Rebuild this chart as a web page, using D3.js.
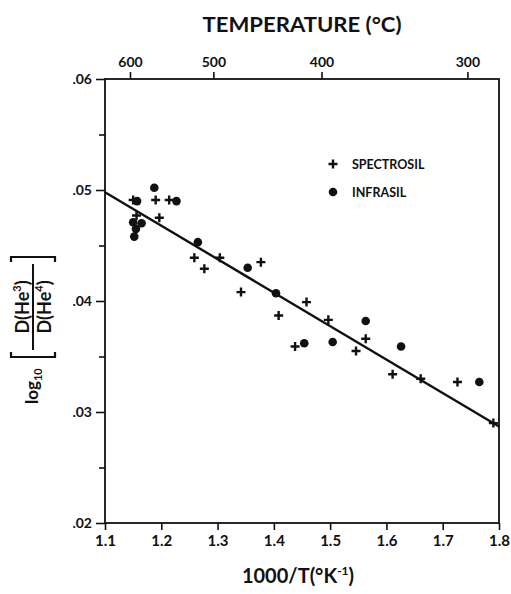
<!DOCTYPE html>
<html>
<head>
<meta charset="utf-8">
<script src="https://cdn.jsdelivr.net/npm/d3@7"></script>
<style>
  body { margin: 0; background: #fff; }
  text { font-family: Lato, "DejaVu Sans", sans-serif; fill: #111; }
</style>
</head>
<body>
<script>
// values
const spectrosilX = [1.150, 1.156, 1.190, 1.214, 1.1965, 1.2587, 1.2765, 1.304, 1.3416, 1.377, 1.4085, 1.4377, 1.458, 1.4968, 1.546, 1.5632, 1.611, 1.6609, 1.7262, 1.790];
const spectrosilY = [0.0491, 0.0477, 0.0491, 0.0491, 0.0475, 0.0439, 0.0429, 0.0439, 0.0408, 0.0435, 0.0387, 0.0359, 0.0399, 0.0383, 0.0355, 0.0366, 0.0334, 0.0330, 0.0327, 0.0290];
const infrasilX = [1.1876, 1.157, 1.227, 1.150, 1.165, 1.155, 1.152, 1.265, 1.3535, 1.4038, 1.454, 1.5045, 1.5632, 1.626, 1.765];
const infrasilY = [0.0502, 0.0490, 0.0490, 0.0471, 0.0470, 0.0465, 0.0458, 0.0453, 0.0430, 0.0407, 0.0362, 0.0363, 0.0382, 0.0359, 0.0327];
const fitX = [1.1, 1.8];
const fitY = [0.0498, 0.0287];
const xTicks = [1.1, 1.2, 1.3, 1.4, 1.5, 1.6, 1.7, 1.8];
const yTicks = [0.02, 0.03, 0.04, 0.05, 0.06];
const yMinorTicks = [0.025, 0.035, 0.045, 0.055];
const tempTicks = [600, 500, 400, 300];

const W = 511, H = 594;
const svg = d3.select("body").append("svg").attr("width", W).attr("height", H);

const x = d3.scaleLinear().domain([1.1, 1.8]).range([105, 499]);
const y = d3.scaleLinear().domain([0.02, 0.06]).range([523, 79]);
// top axis: °C -> 1000/T(K)
const tx = c => x(1000 / (c + 273.15));

const fmtY = d => d3.format(".2f")(d).replace(/^0/, "");

// frame
svg.append("rect")
  .attr("x", x(1.1)).attr("y", y(0.06))
  .attr("width", x(1.8) - x(1.1)).attr("height", y(0.02) - y(0.06))
  .attr("fill", "none").attr("stroke", "#111").attr("stroke-width", 1.8);

// bottom axis
const bottom = svg.append("g")
  .attr("transform", `translate(0,${y(0.02)})`)
  .call(d3.axisBottom(x).tickValues(xTicks).tickSize(7).tickPadding(5).tickFormat(d3.format(".1f")));
bottom.select(".domain").remove();
bottom.selectAll(".tick line").attr("stroke", "#111").attr("stroke-width", 1.6);
bottom.selectAll(".tick text").attr("font-size", 15).attr("font-weight", 700).attr("fill", "#111");

// left axis
const left = svg.append("g")
  .attr("transform", `translate(${x(1.1)},0)`)
  .call(d3.axisLeft(y).tickValues(yTicks).tickSize(9).tickPadding(4).tickFormat(fmtY));
left.select(".domain").remove();
left.selectAll(".tick line").attr("stroke", "#111").attr("stroke-width", 1.6);
left.selectAll(".tick text").attr("font-size", 14).attr("font-weight", 700).attr("fill", "#111");

const leftMinor = svg.append("g")
  .attr("transform", `translate(${x(1.1)},0)`)
  .call(d3.axisLeft(y).tickValues(yMinorTicks).tickSize(6).tickFormat(""));
leftMinor.select(".domain").remove();
leftMinor.selectAll(".tick line").attr("stroke", "#111").attr("stroke-width", 1.6);

// top temperature axis
const topAxis = svg.append("g").attr("transform", `translate(0,${y(0.06)})`);
tempTicks.forEach(c => {
  const g = topAxis.append("g").attr("transform", `translate(${tx(c)},0)`);
  g.append("line").attr("y1", 0).attr("y2", -7).attr("stroke", "#111").attr("stroke-width", 1.6);
  g.append("text").attr("y", -12).attr("text-anchor", "middle")
    .attr("font-size", 14).attr("font-weight", 700).text(c);
});

// axis titles
svg.append("text").attr("x", 302).attr("y", 32).attr("text-anchor", "middle")
  .attr("font-size", 20).attr("font-weight", 700).attr("textLength", 199)
  .attr("lengthAdjust", "spacingAndGlyphs")
  .text("TEMPERATURE (°C)");

const xt = svg.append("text").attr("x", 298).attr("y", 583).attr("text-anchor", "middle")
  .attr("font-size", 20).attr("font-weight", 700);
xt.append("tspan").text("1000/T(°K");
xt.append("tspan").attr("font-size", 12).attr("dy", -8).text("-1");
xt.append("tspan").attr("dy", 8).text(")");

// y title, rotated
const yl = svg.append("g").attr("transform", "translate(38,404) rotate(-90)");
const lg = yl.append("text").attr("x", 0).attr("y", 0).attr("font-size", 17).attr("font-weight", 700);
lg.append("tspan").text("log");
lg.append("tspan").attr("font-size", 11).attr("dy", 4).text("10");
// brackets
const bx0 = 47, bx1 = 147;
const bracket = (xa, dir) => `M${xa + dir * 5},-27 L${xa},-27 L${xa},17 L${xa + dir * 5},17`;
yl.append("path").attr("d", bracket(bx0, 1)).attr("fill", "none").attr("stroke", "#111").attr("stroke-width", 2.2);
yl.append("path").attr("d", bracket(bx1, -1)).attr("fill", "none").attr("stroke", "#111").attr("stroke-width", 2.2);
yl.append("line").attr("x1", 54).attr("x2", 140).attr("y1", -5).attr("y2", -5)
  .attr("stroke", "#111").attr("stroke-width", 2);
const num = yl.append("text").attr("x", 97).attr("y", -9).attr("text-anchor", "middle")
  .attr("font-size", 18).attr("font-weight", 700);
num.append("tspan").text("D(He");
num.append("tspan").attr("font-size", 11).attr("dy", -8).text("3");
num.append("tspan").attr("dy", 8).text(")");
const den = yl.append("text").attr("x", 97).attr("y", 13).attr("text-anchor", "middle")
  .attr("font-size", 18).attr("font-weight", 700);
den.append("tspan").text("D(He");
den.append("tspan").attr("font-size", 11).attr("dy", -8).text("4");
den.append("tspan").attr("dy", 8).text(")");

// fit line
svg.append("line")
  .attr("x1", x(fitX[0])).attr("y1", y(fitY[0]))
  .attr("x2", x(fitX[1])).attr("y2", y(fitY[1]))
  .attr("stroke", "#111").attr("stroke-width", 2.4);

// markers
const plusPath = s => `M${-s},0 L${s},0 M0,${-s} L0,${s}`;
const spectro = d3.zip(spectrosilX, spectrosilY);
const infra = d3.zip(infrasilX, infrasilY);

svg.append("g").selectAll("path").data(spectro).join("path")
  .attr("transform", d => `translate(${x(d[0])},${y(d[1])})`)
  .attr("d", plusPath(4.5))
  .attr("stroke", "#111").attr("stroke-width", 2.4).attr("fill", "none");

svg.append("g").selectAll("circle").data(infra).join("circle")
  .attr("cx", d => x(d[0])).attr("cy", d => y(d[1])).attr("r", 4.3)
  .attr("fill", "#111");

// legend
const legend = svg.append("g");
legend.append("path").attr("transform", "translate(333,164)").attr("d", plusPath(4.5))
  .attr("stroke", "#111").attr("stroke-width", 2.4);
legend.append("circle").attr("cx", 333).attr("cy", 192).attr("r", 4.3).attr("fill", "#111");
legend.append("text").attr("x", 352).attr("y", 169).attr("font-size", 12.5).attr("font-weight", 700).text("SPECTROSIL");
legend.append("text").attr("x", 352).attr("y", 197).attr("font-size", 12.5).attr("font-weight", 700).text("INFRASIL");
</script>
</body>
</html>
